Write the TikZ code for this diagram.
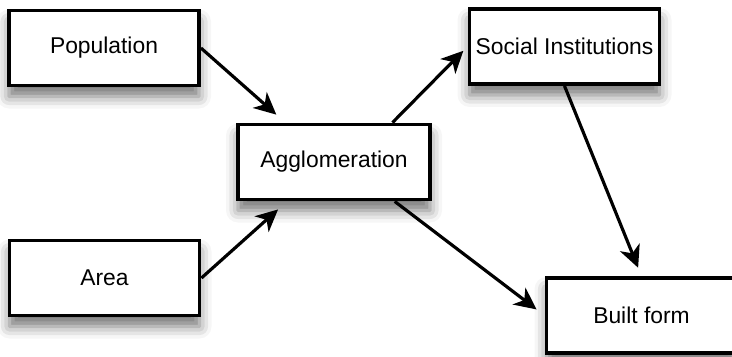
\documentclass[tikz,border=0pt]{standalone}
\usepackage{fontspec}
\setmainfont{Liberation Sans}
\usetikzlibrary{arrows.meta,shadows.blur}

\begin{document}
\begin{tikzpicture}[
	box/.style={rectangle, draw, line width=2.2pt, fill=white, inner sep=0pt,
		minimum width=3.8cm, minimum height=1.5cm,
		font=\fontsize{13pt}{15pt}\selectfont,
		blur shadow={shadow xshift=0cm, shadow yshift=-0.22cm, shadow blur radius=0.24cm, shadow opacity=55}},
	link/.style={line width=1.8pt, -{Stealth[length=0.44cm, width=0.42cm, inset=0.13cm]}}
	]
		\useasboundingbox (0,0) rectangle (14.64,7.12);
		
		\node[box] (pop) at (2.08,6.16) {Population};
		\node[box] (area) at (2.09,1.56) {Area};
		\node[box, minimum width=3.84cm] (agg) at (6.68,3.88) {Agglomeration};
		\node[box] (soc) at (11.29,6.19) {Social Institutions};
		\node[box] (built) at (12.83,0.81) {Built form};
		
		\draw[link, shorten >=0.24cm] (pop.east) -- (agg.141);
		\draw[link, shorten >=0.24cm] (area.east) -- (agg.220);
		\draw[link, shorten >=0.12cm] (agg.34) -- (soc.west);
		\draw[link, shorten >=0.2cm] (agg.-33) -- (built.west);
		\draw[link, shorten >=0.18cm] (soc.south) -- (built.north);
		
	\end{tikzpicture}
\end{document}
